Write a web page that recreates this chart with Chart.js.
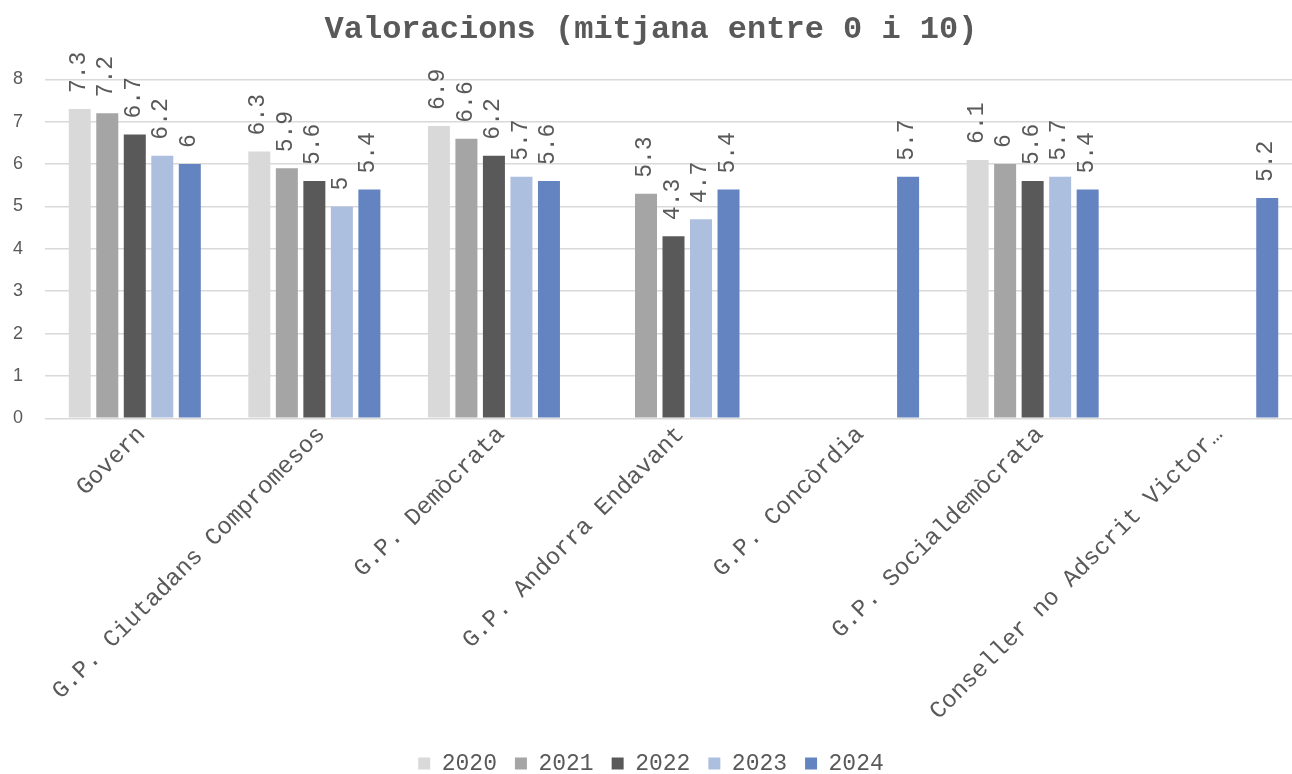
<!DOCTYPE html>
<html>
<head>
<meta charset="utf-8">
<script src="https://cdn.jsdelivr.net/npm/chart.js@4"></script>
<style>
  html, body { margin: 0; padding: 0; background: #fff; overflow: hidden; }
  #wrap { width: 1320px; height: 785px; }
</style>
</head>
<body>
<div id="wrap"><canvas id="chart"></canvas></div>
<script>
const categories = ['Govern', 'G.P. Ciutadans Compromesos', 'G.P. Demòcrata', 'G.P. Andorra Endavant',
  'G.P. Concòrdia', 'G.P. Socialdemòcrata', 'Conseller no Adscrit Victor…']
const years = ['2020', '2021', '2022', '2023', '2024']
const values2020 = [7.3, 6.3, 6.9, null, null, 6.1, null]
const values2021 = [7.2, 5.9, 6.6, 5.3, null, 6, null]
const values2022 = [6.7, 5.6, 6.2, 4.3, null, 5.6, null]
const values2023 = [6.2, 5, 5.7, 4.7, null, 5.7, null]
const values2024 = [6, 5.4, 5.6, 5.4, 5.7, 5.4, 5.2]
const yTicks = [0, 1, 2, 3, 4, 5, 6, 7, 8]

const colors = ['#d9d9d9', '#a5a5a5', '#595959', '#adbfdf', '#6384c1']
const mono = 'Liberation Mono'

// draws the value above each bar, turned a quarter round
const barLabels = {
  id: 'barLabels',
  afterDatasetsDraw(chart) {
    const ctx = chart.ctx
    ctx.save()
    ctx.font = '23px "' + mono + '"'
    ctx.fillStyle = '#595959'
    ctx.textAlign = 'left'
    ctx.textBaseline = 'middle'
    chart.data.datasets.forEach((ds, i) => {
      chart.getDatasetMeta(i).data.forEach((bar, j) => {
        if (ds.data[j] == null) return
        ctx.save()
        ctx.translate(bar.x - 1, bar.y - 16)
        ctx.rotate(-Math.PI / 2)
        ctx.fillText(String(ds.data[j]), 0, 0)
        ctx.restore()
      })
    })
    ctx.restore()
  }
}

const ctx = document.getElementById('chart').getContext('2d')
new Chart(ctx, {
  type: 'bar',
  data: {
    labels: categories,
    datasets: [values2020, values2021, values2022, values2023, values2024].map((vals, i) => ({
      label: years[i],
      data: vals,
      backgroundColor: colors[i],
      barPercentage: 0.8,
      categoryPercentage: 0.766
    }))
  },
  options: {
    responsive: true,
    maintainAspectRatio: false,
    animation: false,
    layout: { padding: { right: 18, bottom: 0, left: 0 } },
    plugins: {
      title: {
        display: true,
        text: 'Valoracions (mitjana entre 0 i 10)',
        color: '#595959',
        font: { family: mono, size: 32, weight: 'bold' },
        padding: { top: 11, bottom: 30 }
      },
      legend: {
        position: 'bottom',
        labels: {
          color: '#595959',
          font: { family: mono, size: 23 },
          boxWidth: 12,
          boxHeight: 12,
          padding: 18
        }
      },
      tooltip: { enabled: false }
    },
    scales: {
      x: {
        grid: { display: false },
        border: { display: false },
        ticks: {
          color: '#595959',
          font: { family: mono, size: 24 },
          minRotation: 45,
          maxRotation: 45,
          autoSkip: false,
          padding: -6,
          labelOffset: 7
        },
        // blank title, only used as room between the labels and the legend
        title: { display: true, text: ' ', font: { size: 1 }, padding: { top: 13, bottom: 0 } }
      },
      y: {
        min: yTicks[0],
        max: yTicks[yTicks.length - 1],
        grid: { color: '#d9d9d9', lineWidth: 1.5, drawTicks: false },
        border: { display: false },
        ticks: {
          stepSize: 1,
          padding: 22,
          color: '#595959',
          font: { family: 'Liberation Sans', size: 18 }
        },
        afterFit(scale) { scale.width = 45 }
      }
    }
  },
  plugins: [barLabels]
})
</script>
</body>
</html>
